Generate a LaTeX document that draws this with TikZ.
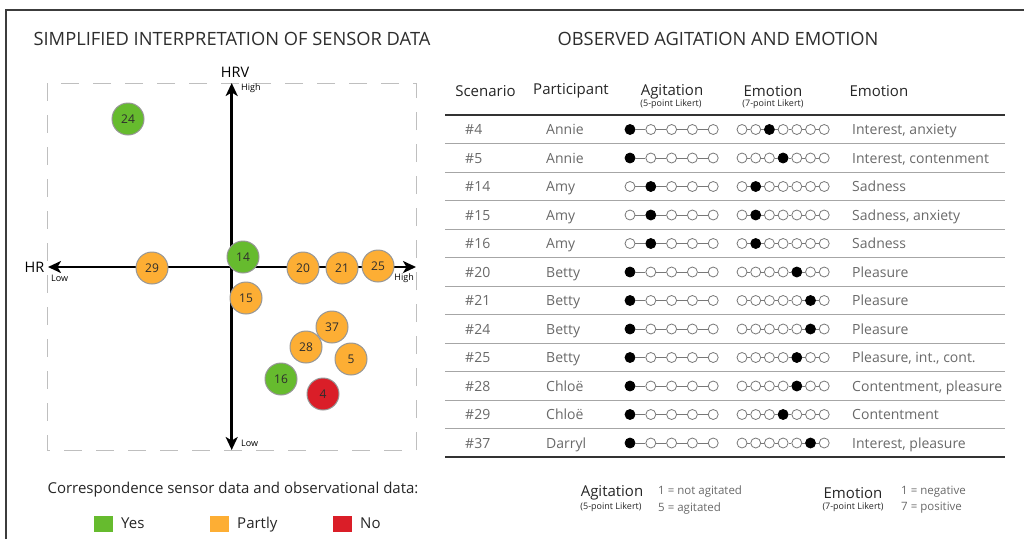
\documentclass[tikz,border=0pt]{standalone}
\usepackage{fontspec}
\setmainfont{Open Sans}
\usetikzlibrary{arrows.meta,positioning}
\definecolor{yescol}{RGB}{102,187,46}
\definecolor{partcol}{RGB}{253,174,52}
\definecolor{nocol}{RGB}{218,30,40}
\definecolor{framegray}{RGB}{60,60,60}
\definecolor{titlegray}{RGB}{45,45,45}
\definecolor{bodygray}{RGB}{105,105,105}
\definecolor{ringgray}{RGB}{150,150,150}
\definecolor{dotgray}{RGB}{120,120,120}
\tikzset{
    >={Stealth[length=13pt,width=12pt,inset=3.5pt]},
    title/.style={font=\fontsize{18.3}{21}\selectfont, text=titlegray},
    planebox/.style={draw=black!25, line width=1pt, dash pattern=on 18pt off 14pt},
    axis/.style={draw, line width=2.5pt, <->},
    axlabel/.style={font=\fontsize{14.5}{16}\selectfont},
    axend/.style={font=\fontsize{9}{10}\selectfont, inner sep=1pt},
    scen/.style={
        circle,
        draw=ringgray, line width=1pt,
        minimum size=32pt,
        inner sep=0pt,
        font=\fontsize{12}{14}\selectfont,
        text=titlegray
    },
    head/.style={font=\fontsize{15}{17}\selectfont, text=black!85},
    subhead/.style={font=\fontsize{9}{10}\selectfont, text=black!85},
    cell/.style={font=\fontsize{14}{16}\selectfont, text=bodygray, anchor=base west, inner sep=0pt},
    dotoff/.style={circle, draw=dotgray, line width=0.8pt, fill=white, minimum size=10pt, inner sep=0pt},
    doton/.style={dotoff, draw=black, fill=black},
    link/.style={draw=dotgray, line width=0.8pt},
    rulethick/.style={draw=black!80, line width=2pt},
    rulethin/.style={draw=black!35, line width=1.2pt},
    swatch/.style={rectangle, minimum width=19pt, minimum height=16pt, inner sep=0pt},
    legtext/.style={font=\fontsize{15}{17}\selectfont, text=black!85, text height=11pt, text depth=3pt},
    keytext/.style={font=\fontsize{11.5}{13}\selectfont, text=bodygray, anchor=west, inner sep=0pt},
}
\begin{document}
\begin{tikzpicture}[x=1pt,y=-1pt]
\useasboundingbox (0,0) rectangle (1024,539);
\draw[framegray, line width=2pt] (6,539) -- (6,10) -- (1024,10);

% titles
\node[title] (lefttitle) at (232,39) {SIMPLIFIED INTERPRETATION OF SENSOR DATA};
\node[title] (righttitle) at (718,39) {OBSERVED AGITATION AND EMOTION};

% sensor plane
\draw[planebox] (47,83) rectangle (416,450);
\coordinate (hrvtop) at (231.7,83);
\coordinate (hrvbot) at (231.7,450);
\coordinate (hrleft) at (48,267);
\coordinate (hrright) at (416,267);
\draw[axis] (hrvbot) -- (hrvtop);
\draw[axis] (hrleft) -- (hrright);
\node[axlabel] (hrv) at (235,72) {HRV};
\node[axlabel] (hr) at (34.5,267) {HR};
\node[axend, anchor=west] (hrvhigh) at (240,88) {High};
\node[axend, anchor=west] (hrvlow) at (240,443) {Low};
\node[axend, anchor=west] (hrlow) at (50,278) {Low};
\node[axend, anchor=east] (hrhigh) at (415,278) {High};

\foreach \cx/\cy/\num/\col in {128/119/24/yescol, 152/268/29/partcol,
    243/257/14/yescol, 303/268/20/partcol, 342/268/21/partcol,
    378/266/25/partcol, 246/298/15/partcol, 332/327/37/partcol,
    306/347/28/partcol, 351/359/5/partcol, 281/379/16/yescol,
    323/394/4/nocol}
    \node[scen, fill=\col] (s\num) at (\cx,\cy) {\num};

% legend
\node[legtext] (legtitle) at (233,489) {Correspondence sensor data and observational data:};
\node[swatch, fill=yescol] (swyes) at (103,524) {};
\node[legtext, right=5pt of swyes] (lyes) {Yes};
\node[swatch, fill=partcol] (swpart) at (219,524) {};
\node[legtext, right=5pt of swpart] (lpart) {Partly};
\node[swatch, fill=nocol] (swno) at (342,524) {};
\node[legtext, right=5pt of swno] (lno) {No};

% table
\node[head] (hscen) at (485.5,91) {Scenario};
\node[head] (hpart) at (571,91) {Participant};
\node[head] (hagit) at (672,91.5) {Agitation};
\node[subhead] (hagitsub) at (671,104.5) {(5-point Likert)};
\node[head] (hemo) at (773,91.5) {Emotion};
\node[subhead] (hemosub) at (773,104.5) {(7-point Likert)};
\node[head, anchor=west] (hemotxt) at (846,91) {Emotion};
\draw[rulethick] (445,115) -- (1005,115);
\draw[rulethick] (445,457) -- (1005,457);
\foreach \i [evaluate=\i as \ly using 143.75+28.5*(\i-1)] in {1,...,11}
    \draw[rulethin] (445,\ly) -- (1005,\ly);

\foreach \i/\sc/\pa/\ag/\em/\txt [evaluate=\i as \ry using 129.5+28.5*(\i-1)] in {
    1/4/Annie/1/3/{Interest, anxiety},
    2/5/Annie/1/4/{Interest, contenment},
    3/14/Amy/2/2/{Sadness},
    4/15/Amy/2/2/{Sadness, anxiety},
    5/16/Amy/2/2/{Sadness},
    6/20/Betty/1/5/{Pleasure},
    7/21/Betty/1/6/{Pleasure},
    8/24/Betty/1/6/{Pleasure},
    9/25/Betty/1/5/{Pleasure, int., cont.},
    10/28/Chloë/1/5/{Contentment, pleasure},
    11/29/Chloë/1/4/{Contentment},
    12/37/Darryl/1/6/{Interest, pleasure}}{
    \node[cell] (sc\i) at (465,\ry+5) {\#\sc};
    \node[cell] (pa\i) at (546,\ry+5) {\pa};
    \node[cell] (tx\i) at (852,\ry+5) {\txt};
    \foreach \k in {1,...,5}{
        \ifnum\k=\ag\relax \def\dotkind{doton}\else \def\dotkind{dotoff}\fi
        \node[\dotkind] (ag\i-\k) at ({630+20.8*(\k-1)},\ry) {};
    }
    \foreach \k in {1,...,7}{
        \ifnum\k=\em\relax \def\dotkind{doton}\else \def\dotkind{dotoff}\fi
        \node[\dotkind] (em\i-\k) at ({742+13.7*(\k-1)},\ry) {};
    }
    \foreach \k [count=\j from 2] in {1,...,4}
        \draw[link] (ag\i-\k) -- (ag\i-\j);
    \foreach \k [count=\j from 2] in {1,...,6}
        \draw[link] (em\i-\k) -- (em\i-\j);
}

% scale keys
\node[head] (kagit) at (612,493) {Agitation};
\node[subhead] (kagitsub) at (611,507) {(5-point Likert)};
\node[keytext] (kagitlo) at (658,492) {1 = not agitated};
\node[keytext] (kagithi) at (658,508) {5 = agitated};
\node[head] (kemo) at (853,493) {Emotion};
\node[subhead] (kemosub) at (853,507) {(7-point Likert)};
\node[keytext] (kemolo) at (901,492) {1 = negative};
\node[keytext] (kemohi) at (901,508) {7 = positive};
\end{tikzpicture}
\end{document}
